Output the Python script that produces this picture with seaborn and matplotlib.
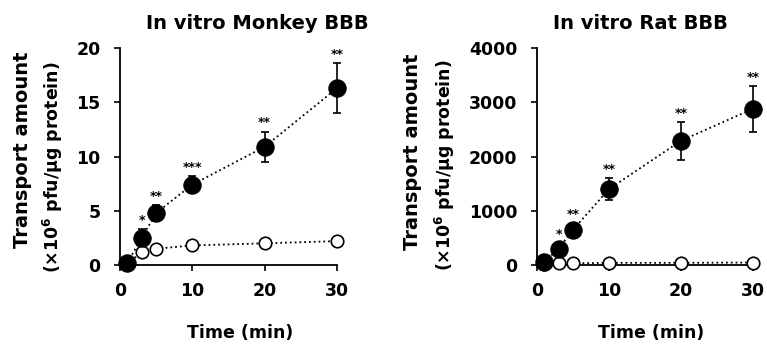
import matplotlib
matplotlib.use("Agg")
import matplotlib.pyplot as plt
import seaborn as sns
import pandas as pd
import numpy as np

time_min = [1, 3, 5, 10, 20, 30]

monkey_treated = [0.2, 2.5, 4.8, 7.4, 10.9, 16.3]
monkey_treated_err = [0.3, 0.8, 0.7, 0.8, 1.4, 2.3]
monkey_control = [0.1, 1.2, 1.5, 1.8, 2.0, 2.2]
monkey_stars = ["", "*", "**", "***", "**", "**"]

rat_treated = [60, 300, 650, 1400, 2290, 2880]
rat_treated_err = [60, 100, 130, 200, 350, 420]
rat_control = [20, 30, 30, 40, 40, 45]
rat_stars = ["", "*", "**", "**", "**", "**"]

titles = ["In vitro Monkey BBB", "In vitro Rat BBB"]
x_ticks = [0, 10, 20, 30]
monkey_y_ticks = [0, 5, 10, 15, 20]
rat_y_ticks = [0, 1000, 2000, 3000, 4000]
ylabel_line1 = "Transport amount"
ylabel_line2 = "(×10$^{6}$ pfu/μg protein)"
xlabel = "Time (min)"

sns.set_theme(style="ticks")
plt.rcParams["font.family"] = ["DejaVu Sans"]
plt.rcParams["font.weight"] = "bold"
plt.rcParams["mathtext.default"] = "bf"
for key in ["text.color", "axes.labelcolor", "xtick.color", "ytick.color", "axes.edgecolor"]:
    plt.rcParams[key] = "black"

W, H = 767, 354
fig = plt.figure(figsize=(W / 100, H / 100), dpi=100)

def make_axes(left_px, width_px):
    return fig.add_axes([left_px / W, (H - 265) / H, width_px / W, 217 / H])

ax1 = make_axes(120, 217)
ax2 = make_axes(537, 216)

panels = [
    (ax1, monkey_treated, monkey_treated_err, monkey_control, monkey_stars, monkey_y_ticks, 0.635),
    (ax2, rat_treated, rat_treated_err, rat_control, rat_stars, rat_y_ticks, 0.48),
]

for i, (ax, tr, err, ct, stars, yt, tx) in enumerate(panels):
    df = pd.DataFrame({
        "Time": time_min * 2,
        "Amount": list(tr) + list(ct),
        "Group": ["treated"] * len(time_min) + ["control"] * len(time_min),
    })
    ax.errorbar(time_min, tr, yerr=err, fmt="none", ecolor="black",
                elinewidth=1.2, capsize=3, capthick=1.2, zorder=2, clip_on=False)
    sns.lineplot(data=df[df.Group == "control"], x="Time", y="Amount", ax=ax,
                 color="black", linestyle=":", linewidth=1.3, marker="o",
                 markersize=9, markerfacecolor="white", markeredgecolor="black",
                 markeredgewidth=1.2, zorder=3, clip_on=False, legend=False)
    sns.lineplot(data=df[df.Group == "treated"], x="Time", y="Amount", ax=ax,
                 color="black", linestyle=":", linewidth=1.3, marker="o",
                 markersize=12.5, markerfacecolor="black", markeredgecolor="black",
                 zorder=4, clip_on=False, legend=False)
    top = yt[-1]
    for t, v, e, s in zip(time_min, tr, err, stars):
        if s:
            ax.text(t, v + e + top * 0.01, s, ha="center", va="bottom",
                    fontsize=9, fontweight="bold", color="black")
    ax.set_xlim(0, 30)
    ax.set_ylim(0, top)
    ax.set_xticks(x_ticks)
    ax.set_yticks(yt)
    ax.set_xlabel("")
    ax.set_ylabel("")
    ax.tick_params(axis="both", labelsize=12.5, width=1.2, length=4, direction="out",
                   colors="black")
    ax.tick_params(axis="x", pad=8)
    ax.tick_params(axis="y", pad=10)
    for lab in ax.get_xticklabels() + ax.get_yticklabels():
        lab.set_fontweight("bold")
    for side in ["top", "right"]:
        ax.spines[side].set_visible(False)
    for side in ["left", "bottom"]:
        ax.spines[side].set_linewidth(1.3)
        ax.spines[side].set_color("black")
    ax.set_title(titles[i], x=tx, y=1.05, fontsize=14, fontweight="bold", color="black")

fig.text(240 / W, 1 - 333 / H, xlabel, ha="center", va="center", fontsize=12.5, fontweight="bold")
fig.text(651 / W, 1 - 333 / H, xlabel, ha="center", va="center", fontsize=12.5, fontweight="bold")
fig.text(23 / W, 1 - 150 / H, ylabel_line1, ha="center", va="center", rotation=90, fontsize=14, fontweight="bold")
fig.text(53 / W, 1 - 167 / H, ylabel_line2, ha="center", va="center", rotation=90, fontsize=12.5, fontweight="bold")
fig.text(412 / W, 1 - 152 / H, ylabel_line1, ha="center", va="center", rotation=90, fontsize=14, fontweight="bold")
fig.text(445 / W, 1 - 165 / H, ylabel_line2, ha="center", va="center", rotation=90, fontsize=12.5, fontweight="bold")

fig.savefig("out.png", dpi=100, facecolor="white")
